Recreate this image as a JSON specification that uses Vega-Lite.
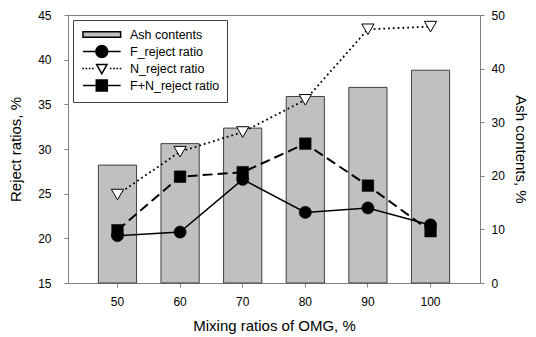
{
  "$schema": "https://vega.github.io/schema/vega-lite/v6.json",
  "width": 412,
  "height": 268,
  "autosize": {"type": "none"},
  "padding": {"left": 68, "top": 15, "right": 56, "bottom": 54},
  "background": "white",
  "config": {
    "font": "Liberation Sans",
    "view": {"stroke": "#808080", "strokeWidth": 1},
    "axis": {
      "grid": false,
      "domainColor": "#808080",
      "tickColor": "#808080",
      "tickSize": 4,
      "labelFont": "Liberation Sans",
      "labelFontSize": 12,
      "labelColor": "black",
      "titleFont": "Liberation Sans",
      "titleFontSize": 15,
      "titleFontWeight": "normal",
      "titleColor": "black"
    }
  },
  "data": {
    "values": [
      {"ratio": 50, "series": "Ash contents", "value": 22.0},
      {"ratio": 60, "series": "Ash contents", "value": 26.0},
      {"ratio": 70, "series": "Ash contents", "value": 28.9},
      {"ratio": 80, "series": "Ash contents", "value": 34.8},
      {"ratio": 90, "series": "Ash contents", "value": 36.5},
      {"ratio": 100, "series": "Ash contents", "value": 39.7},
      {"ratio": 50, "series": "F_reject ratio", "value": 20.3},
      {"ratio": 60, "series": "F_reject ratio", "value": 20.7},
      {"ratio": 70, "series": "F_reject ratio", "value": 26.6},
      {"ratio": 80, "series": "F_reject ratio", "value": 22.9},
      {"ratio": 90, "series": "F_reject ratio", "value": 23.4},
      {"ratio": 100, "series": "F_reject ratio", "value": 21.5},
      {"ratio": 50, "series": "N_reject ratio", "value": 24.9},
      {"ratio": 60, "series": "N_reject ratio", "value": 29.7},
      {"ratio": 70, "series": "N_reject ratio", "value": 31.9},
      {"ratio": 80, "series": "N_reject ratio", "value": 35.5},
      {"ratio": 90, "series": "N_reject ratio", "value": 43.4},
      {"ratio": 100, "series": "N_reject ratio", "value": 43.7},
      {"ratio": 50, "series": "F+N_reject ratio", "value": 20.9},
      {"ratio": 60, "series": "F+N_reject ratio", "value": 26.9},
      {"ratio": 70, "series": "F+N_reject ratio", "value": 27.4},
      {"ratio": 80, "series": "F+N_reject ratio", "value": 30.6},
      {"ratio": 90, "series": "F+N_reject ratio", "value": 25.9},
      {"ratio": 100, "series": "F+N_reject ratio", "value": 20.8}
    ]
  },
  "layer": [
    {
      "transform": [{"filter": "datum.series === 'Ash contents'"}],
      "mark": {"type": "bar", "stroke": "#404040", "strokeWidth": 1},
      "encoding": {
        "x": {
          "field": "ratio",
          "type": "ordinal",
          "scale": {"paddingInner": 0.39, "paddingOuter": 0.485},
          "axis": {"title": "Mixing ratios of OMG, %", "labelAngle": 0, "labelPadding": 9, "titlePadding": 11}
        },
        "y": {
          "field": "value",
          "type": "quantitative",
          "scale": {"domain": [0, 50], "nice": false, "zero": true},
          "axis": {"orient": "right", "title": "Ash contents, %", "values": [0, 10, 20, 30, 40, 50], "labelPadding": 7, "titlePadding": 8}
        },
        "fill": {
          "field": "series",
          "type": "nominal",
          "scale": {
            "domain": ["Ash contents", "F_reject ratio", "N_reject ratio", "F+N_reject ratio"],
            "range": ["#c0c0c0", "black", "white", "black"]
          },
          "legend": {
            "title": null,
            "orient": "top-left",
            "offset": 5,
            "padding": 7,
            "fillColor": "white",
            "strokeColor": "#404040",
            "labelFontSize": 12.5,
            "labelFont": "Liberation Sans",
            "labelColor": "black",
            "labelLimit": 300,
            "symbolSize": 169,
            "labelOffset": 35,
            "rowPadding": -3,
            "symbolStrokeColor": "black",
            "symbolStrokeWidth": 1.5,
            "symbolType": {"expr": "datum.value === 'Ash contents' ? 'M2.2,-1M2.2,1M-0.7,-0.42H5.1V0.42H-0.7Z' : datum.value === 'F_reject ratio' ? 'M2.2,-1M2.2,1M-0.7,0H5.1M3.12,0L3.05,0.35L2.85,0.65L2.55,0.85L2.2,0.92L1.85,0.85L1.55,0.65L1.35,0.35L1.28,0L1.35,-0.35L1.55,-0.65L1.85,-0.85L2.2,-0.92L2.55,-0.85L2.85,-0.65L3.05,-0.35Z' : datum.value === 'N_reject ratio' ? 'M2.2,-1M2.2,1M-0.8,0h0.25M-0.3,0h0.25M0.2,0h0.25M0.7,0h0.25M3.45,0h0.25M3.95,0h0.25M4.45,0h0.25M4.95,0h0.25M1.4,-0.6L3,-0.6L2.2,0.8Z' : 'M2.2,-1M2.2,1M-0.7,0H5.1M1.35,-0.85H3.05V0.85H1.35Z'"}
          }
        }
      }
    },
    {
      "encoding": {
        "x": {"field": "ratio", "type": "ordinal"},
        "y": {
          "field": "value",
          "type": "quantitative",
          "scale": {"domain": [15, 45], "nice": false, "zero": false},
          "axis": {"orient": "left", "title": "Reject ratios, %", "values": [15, 20, 25, 30, 35, 40, 45], "labelPadding": 13, "titlePadding": 14}
        }
      },
      "layer": [
        {
          "transform": [{"filter": "datum.series === 'N_reject ratio'"}],
          "mark": {"type": "line", "color": "black", "strokeWidth": 1.8, "strokeDash": [1.8, 3]}
        },
        {
          "transform": [{"filter": "datum.series === 'F+N_reject ratio'"}],
          "mark": {"type": "line", "color": "black", "strokeWidth": 2, "strokeDash": [10, 5]}
        },
        {
          "transform": [{"filter": "datum.series === 'F_reject ratio'"}],
          "mark": {"type": "line", "color": "black", "strokeWidth": 1.5}
        },
        {
          "transform": [{"filter": "datum.series === 'N_reject ratio'"}],
          "mark": {"type": "point", "shape": "triangle-down", "filled": true, "fill": "white", "stroke": "black", "strokeWidth": 1, "size": 150, "opacity": 1}
        },
        {
          "transform": [{"filter": "datum.series === 'F+N_reject ratio'"}],
          "mark": {"type": "point", "shape": "square", "filled": true, "fill": "black", "stroke": "black", "strokeWidth": 0.5, "size": 135, "opacity": 1}
        },
        {
          "transform": [{"filter": "datum.series === 'F_reject ratio'"}],
          "mark": {"type": "point", "shape": "circle", "filled": true, "fill": "black", "stroke": "black", "strokeWidth": 0.5, "size": 150, "opacity": 1}
        }
      ]
    }
  ],
  "resolve": {"scale": {"y": "independent"}}
}
